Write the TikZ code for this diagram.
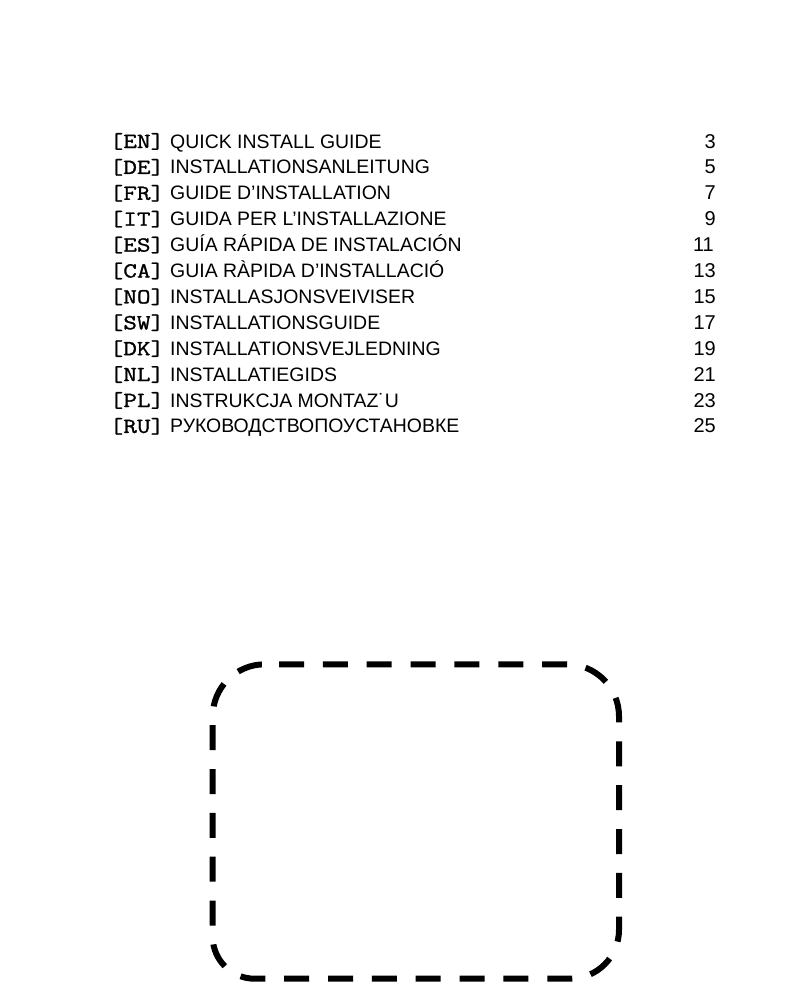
\documentclass[tikz,border=0pt]{standalone}
\usepackage{fontspec}
\setmainfont{Liberation Sans}
\newfontfamily\codefont[FakeBold=1.2,FakeStretch=1.23]{Latin Modern Mono}
\tikzset{
  code/.style={anchor=base west,inner sep=0pt,font=\fontsize{21.5}{24}\selectfont\codefont},
  title/.style={anchor=base west,inner sep=0pt,font=\fontsize{19.45}{24}\selectfont},
  pagenum/.style={anchor=base east,inner sep=0pt,font=\fontsize{20}{24}\selectfont},
  cutline/.style={line width=6pt,black,dash pattern=on 25pt off 18.85pt}
}
\begin{document}
\begin{tikzpicture}[x=1pt,y=-1pt]
\useasboundingbox (0,0) rectangle (808,990);
\fill[white] (0,0) rectangle (808,990);
\foreach \i/\c/\t/\p/\e in {
 0/[EN]/QUICK INSTALL GUIDE/3/716,
 1/[DE]/INSTALLATIONSANLEITUNG/5/716,
 2/[FR]/GUIDE D’INSTALLATION/7/716,
 3/[IT]/GUIDA PER L’INSTALLAZIONE/9/716,
 4/[ES]/GUÍA RÁPIDA DE INSTALACIÓN/11/714,
 5/[CA]/GUIA RÀPIDA D’INSTALLACIÓ/13/716,
 6/[NO]/INSTALLASJONSVEIVISER/15/716,
 7/[SW]/INSTALLATIONSGUIDE/17/716,
 8/[DK]/INSTALLATIONSVEJLEDNING/19/716,
 9/[NL]/INSTALLATIEGIDS/21/716,
 10/[PL]/INSTRUKCJA MONTAZ˙U/23/716,
 11/[RU]/РУКОВОДСТВОПОУСТАНОВКЕ/25/716}{
  \pgfmathsetmacro{\yy}{148+25.9*\i}
  \node[code] (c\i) at (109.5,\yy) {\c};
  \node[title] (t\i) at (170,\yy) {\t};
  \node[pagenum] (p\i) at (\e,\yy) {\p};
}
\draw[cutline] (279,664.3) -- (567,664.3)
  .. controls (595.7,664.3) and (619,687.6) .. (619,716.3)
  -- (619,929.7)
  .. controls (619,956.8) and (597.1,978.7) .. (570,978.7)
  -- (254.7,978.7)
  .. controls (231.5,978.7) and (212.7,959.9) .. (212.7,936.7)
  -- (212.7,716.3)
  .. controls (212.7,687.6) and (236,664.3) .. (264.7,664.3)
  -- (279,664.3);
\end{tikzpicture}
\end{document}
